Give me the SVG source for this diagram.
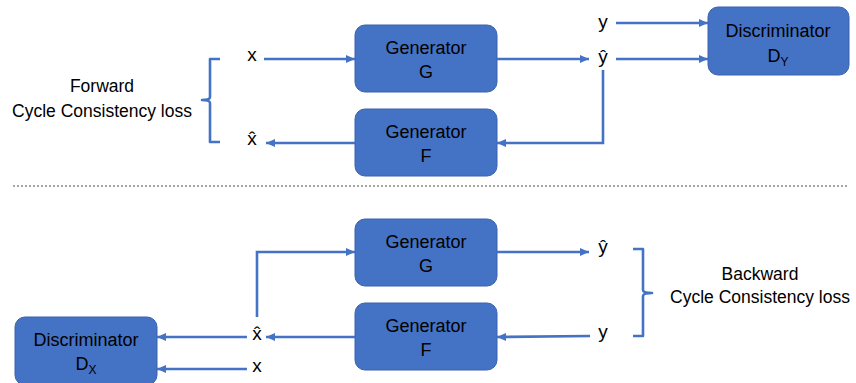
<svg xmlns="http://www.w3.org/2000/svg" width="856" height="383" viewBox="0 0 856 383">
<defs>
<marker id="ah" markerUnits="userSpaceOnUse" markerWidth="10" markerHeight="10" viewBox="0 0 10 10" refX="9" refY="5" orient="auto">
<path d="M0,1 L9,5 L0,9 Z" fill="#4472C4"/>
</marker>
<style>
.box{fill:#4472C4;stroke:#3A63AE;stroke-width:1}
.t{font-family:"Liberation Sans",Arial,sans-serif;font-size:18px;fill:#000;text-anchor:middle}
.l{font-size:19px}
.k{font-size:17.5px}
.sub{font-size:12px}
.c{fill:none;stroke:#4472C4;stroke-width:2.6}
.ca{fill:none;stroke:#4472C4;stroke-width:2.6;marker-end:url(#ah)}
.br{fill:none;stroke:#4472C4;stroke-width:2.6;stroke-linejoin:round}
</style>
</defs>
<rect width="856" height="383" fill="#fff"/>
<line x1="13" y1="186" x2="848" y2="186" stroke="#A6A6A6" stroke-width="2" stroke-dasharray="2,2"/>

<g id="gen-g-top"><rect class="box" x="355" y="25" width="142" height="67" rx="10"/><text class="t" x="426" y="54">Generator</text><text class="t" x="426" y="78">G</text></g>
<g id="gen-f-top"><rect class="box" x="355" y="109" width="142" height="67" rx="10"/><text class="t" x="426" y="138">Generator</text><text class="t" x="426" y="162">F</text></g>
<g id="disc-dy"><rect class="box" x="708" y="7" width="141" height="68" rx="10"/><text class="t" x="778" y="37">Discriminator</text><text class="t" x="778" y="62">D<tspan class="sub" dy="4">Y</tspan></text></g>
<g id="gen-g-bot"><rect class="box" x="355" y="219" width="142" height="67" rx="10"/><text class="t" x="426" y="248">Generator</text><text class="t" x="426" y="272">G</text></g>
<g id="gen-f-bot"><rect class="box" x="355" y="303" width="142" height="67" rx="10"/><text class="t" x="426" y="332">Generator</text><text class="t" x="426" y="356">F</text></g>
<g id="disc-dx"><rect class="box" x="15" y="317" width="142" height="68" rx="10"/><text class="t" x="86" y="346">Discriminator</text><text class="t" x="86" y="370">D<tspan class="sub" dy="4">X</tspan></text></g>

<g id="labels">
<text class="t l" x="252" y="61">x</text>
<text class="t l" x="252" y="145">x̂</text>
<text class="t l" x="603" y="28">y</text>
<text class="t l" x="603" y="63">ŷ</text>
<text class="t l" x="603" y="253">ŷ</text>
<text class="t l" x="603" y="338">y</text>
<text class="t l" x="257" y="340">x̂</text>
<text class="t l" x="257" y="372">x</text>
<text class="t k" x="102" y="92">Forward</text>
<text class="t k" x="102" y="117">Cycle Consistency loss</text>
<text class="t k" x="760" y="280">Backward</text>
<text class="t k" x="760" y="303">Cycle Consistency loss</text>
</g>

<g id="connectors">
<line class="ca" x1="264" y1="59" x2="355" y2="59"/>
<line class="ca" x1="497" y1="59" x2="589" y2="59"/>
<line class="ca" x1="616" y1="23" x2="708" y2="23"/>
<line class="ca" x1="616" y1="59" x2="708" y2="59"/>
<polyline class="ca" points="603,70 603,143 497,143"/>
<line class="ca" x1="355" y1="143" x2="266" y2="143"/>
<polyline class="ca" points="257,317 257,252 355,252"/>
<line class="ca" x1="497" y1="252" x2="589" y2="252"/>
<line class="ca" x1="590" y1="336" x2="497" y2="337"/>
<line class="ca" x1="355" y1="337" x2="266" y2="337"/>
<line class="ca" x1="247" y1="337" x2="157" y2="337"/>
<line class="ca" x1="247" y1="369" x2="157" y2="369"/>
<path class="br" d="M220,59 L210,59 L210,97 Q210,100 202,100 Q210,100 210,103 L210,142 L220,142"/>
<path class="br" d="M633,249 L643,249 L643,290 Q643,293 652,293 Q643,293 643,296 L643,336 L633,336"/>
</g>
</svg>
